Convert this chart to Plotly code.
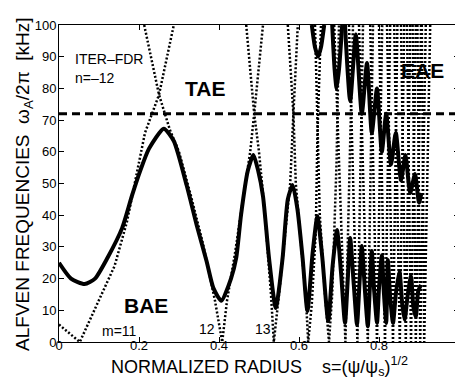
import plotly.graph_objects as go

# ---------------- data ----------------
# lower (BAE/TAE) toroidal continuum branch, thick solid
s_lower = [0.0, 0.03, 0.064, 0.09, 0.121, 0.158, 0.183, 0.203, 0.225, 0.262, 0.287, 0.319, 0.344,
           0.369, 0.386, 0.406, 0.43, 0.443, 0.455, 0.472, 0.486, 0.498, 0.51, 0.525, 0.542,
           0.559, 0.572, 0.584, 0.596, 0.609, 0.621, 0.634, 0.646, 0.658, 0.673, 0.684,
           0.695, 0.705, 0.715, 0.722, 0.728, 0.737, 0.745, 0.751, 0.757, 0.765, 0.772,
           0.777, 0.782, 0.788, 0.795, 0.80, 0.807, 0.812, 0.818, 0.822, 0.828, 0.835,
           0.842, 0.851, 0.858, 0.864, 0.872, 0.88, 0.886, 0.892, 0.898, 0.905]
f_lower = [25.0, 20.0, 18.3, 20.0, 26.5, 36.0, 46.4, 54.0, 61.0, 67.3, 63.4, 49.5, 37.0,
           25.5, 17.0, 13.0, 20.0, 26.5, 40.0, 54.0, 59.0, 54.0, 46.0, 26.5, 10.7,
           26.5, 45.0, 49.5, 42.0, 26.5, 9.8, 28.0, 39.7, 27.0, 6.6, 24.0,
           35.3, 22.0, 6.0, 20.0, 32.8, 18.0, 5.5, 18.0, 30.3, 16.0, 5.0,
           17.0, 28.7, 16.0, 6.0, 17.0, 27.4, 16.0, 6.0, 25.9, 14.0, 6.0,
           15.0, 22.4, 12.0, 7.0, 15.0, 20.8, 11.0, 8.0, 16.0, 18.0]

# upper (EAE side) toroidal continuum branches, thick solid
s_upper1 = [0.632, 0.640, 0.648, 0.655, 0.663]
f_upper1 = [100.0, 93.0, 90.0, 93.0, 100.0]
s_upper2 = [0.683, 0.689, 0.694, 0.700, 0.708]
f_upper2 = [100.0, 86.0, 80.0, 86.0, 100.0]
s_upper3 = [0.715, 0.728, 0.742, 0.757, 0.770, 0.782, 0.795, 0.807, 0.818, 0.830,
            0.842, 0.855, 0.866, 0.878, 0.890, 0.900, 0.906]
f_upper3 = [100.0, 76.0, 97.0, 72.0, 88.0, 66.0, 80.0, 60.0, 72.0, 56.0,
            66.0, 51.0, 59.0, 47.0, 53.0, 44.0, 47.0]

# cylindrical continua (dotted), one V per poloidal mode number m
cyl_m11_s = [0.0, 0.052, 0.139, 0.17, 0.215, 0.25, 0.287]
cyl_m11_f = [5.5, 0.0, 24.0, 38.0, 66.0, 78.0, 100.0]
cyl_m12_s = [0.213, 0.25, 0.277, 0.30, 0.33, 0.36, 0.39, 0.408, 0.42, 0.44, 0.46, 0.478, 0.488, 0.51]
cyl_m12_f = [100.0, 78.0, 67.0, 60.0, 46.0, 31.0, 13.0, 0.0, 13.0, 28.0, 45.0, 60.0, 72.0, 100.0]
cyl_m13_s = [0.468, 0.488, 0.50, 0.515, 0.53, 0.537, 0.55, 0.565, 0.578, 0.586, 0.597]
cyl_m13_f = [100.0, 72.0, 60.0, 40.0, 15.0, 0.0, 15.0, 35.0, 50.0, 72.0, 100.0]
cyl_m14_s = [0.572, 0.586, 0.592, 0.605, 0.618, 0.623, 0.632, 0.642, 0.646, 0.655]
cyl_m14_f = [100.0, 72.0, 50.0, 30.0, 12.0, 0.0, 12.0, 35.0, 65.0, 100.0]
cyl_m15_s = [0.640, 0.646, 0.652, 0.665, 0.675, 0.683, 0.694, 0.700]
cyl_m15_f = [100.0, 65.0, 40.0, 15.0, 0.0, 15.0, 57.0, 100.0]
cyl_m16_s = [0.688, 0.716, 0.735]
cyl_m16_f = [100.0, 0.0, 100.0]
cyl_m17_s = [0.725, 0.746, 0.760]
cyl_m17_f = [100.0, 0.0, 100.0]
cyl_m18_s = [0.750, 0.772, 0.785]
cyl_m18_f = [100.0, 0.0, 100.0]
cyl_m19_s = [0.778, 0.795, 0.808]
cyl_m19_f = [100.0, 0.0, 100.0]
cyl_m20_s = [0.800, 0.815, 0.828]
cyl_m20_f = [100.0, 0.0, 100.0]
cyl_m21_s = [0.820, 0.835, 0.846]
cyl_m21_f = [100.0, 0.0, 100.0]
cyl_m22_s = [0.838, 0.852, 0.863]
cyl_m22_f = [100.0, 0.0, 100.0]
cyl_m23_s = [0.855, 0.867, 0.878]
cyl_m23_f = [100.0, 0.0, 100.0]
cyl_m24_s = [0.870, 0.880, 0.892]
cyl_m24_f = [100.0, 0.0, 100.0]
cyl_m25_s = [0.884, 0.892, 0.905]
cyl_m25_f = [100.0, 0.0, 100.0]
cyl_m26_s = [0.896, 0.903, 0.917]
cyl_m26_f = [100.0, 0.0, 100.0]
cyl_m27_s = [0.907, 0.913, 0.928]
cyl_m27_f = [100.0, 0.0, 100.0]

# TAE frequency (dashed)
gap_s = [0.0, 1.0]
gap_f = [72.0, 72.0]

x_ticks = [0, 0.2, 0.4, 0.6, 0.8, 1.0]
x_tick_labels = ["0", "0.2", "0.4", "0.6", "0.8", "1"]
y_ticks = [0, 10, 20, 30, 40, 50, 60, 70, 80, 90, 100]

# ---------------- figure ----------------
FONT = "Liberation Sans, Arial, sans-serif"
fig = go.Figure()

cyl = [(cyl_m11_s, cyl_m11_f), (cyl_m12_s, cyl_m12_f), (cyl_m13_s, cyl_m13_f),
       (cyl_m14_s, cyl_m14_f), (cyl_m15_s, cyl_m15_f), (cyl_m16_s, cyl_m16_f),
       (cyl_m17_s, cyl_m17_f), (cyl_m18_s, cyl_m18_f), (cyl_m19_s, cyl_m19_f),
       (cyl_m20_s, cyl_m20_f), (cyl_m21_s, cyl_m21_f), (cyl_m22_s, cyl_m22_f),
       (cyl_m23_s, cyl_m23_f), (cyl_m24_s, cyl_m24_f), (cyl_m25_s, cyl_m25_f),
       (cyl_m26_s, cyl_m26_f), (cyl_m27_s, cyl_m27_f)]
for xs, ys in cyl:
    fig.add_trace(go.Scatter(x=xs, y=ys, mode="lines", hoverinfo="skip",
                             line=dict(color="black", width=2.5, dash="2px,2px")))

for xs, ys in [(s_lower, f_lower), (s_upper1, f_upper1), (s_upper2, f_upper2), (s_upper3, f_upper3)]:
    fig.add_trace(go.Scatter(x=xs, y=ys, mode="lines", hoverinfo="skip",
                             line=dict(color="black", width=4, shape="spline", smoothing=0.6)))

fig.add_trace(go.Scatter(x=gap_s, y=gap_f, mode="lines", hoverinfo="skip",
                         line=dict(color="black", width=3, dash="8px,5px")))

ann_small = dict(showarrow=False, font=dict(family=FONT, size=14, color="black"))
ann_big = dict(showarrow=False, font=dict(family=FONT, size=21, color="black"))
annotations = [
    dict(text="ITER–FDR", x=0.035, y=89.3, xanchor="left", yanchor="middle", **ann_small),
    dict(text="n=–12", x=0.035, y=83.3, xanchor="left", yanchor="middle", **ann_small),
    dict(text="m=11", x=0.151, y=3.5, xanchor="center", yanchor="middle", **ann_small),
    dict(text="12", x=0.369, y=4.1, xanchor="center", yanchor="middle", **ann_small),
    dict(text="13", x=0.51, y=4.1, xanchor="center", yanchor="middle", **ann_small),
    dict(text="<b>TAE</b>", x=0.365, y=80.1, xanchor="center", yanchor="middle", **ann_big),
    dict(text="<b>EAE</b>", x=0.908, y=85.5, xanchor="center", yanchor="middle", **ann_big),
    dict(text="<b>BAE</b>", x=0.218, y=11.4, xanchor="center", yanchor="middle", **ann_big),
    dict(text="ALFVEN FREQUENCIES\u00a0\u00a0ω<sub>A</sub>/2π\u00a0\u00a0[kHz]",
         xref="paper", yref="paper", x=-0.089, y=0.5, xanchor="center", yanchor="middle",
         textangle=-90, showarrow=False,
         font=dict(family=FONT, size=19, color="black")),
    dict(text="NORMALIZED RADIUS\u00a0\u00a0\u00a0\u00a0s=(ψ/ψ<sub>s</sub>)<sup>1/2</sup>",
         xref="paper", yref="paper", x=0.5, y=-0.077, xanchor="center", yanchor="middle",
         showarrow=False,
         font=dict(family=FONT, size=18, color="black")),
]

axis_common = dict(showgrid=False, zeroline=False, showline=True, linecolor="black", linewidth=1,
                   mirror="ticks", ticks="inside", ticklen=5, tickcolor="black", tickwidth=1,
                   tickfont=dict(family=FONT, size=13, color="black"))
fig.update_layout(
    width=463, height=378,
    margin=dict(l=51, r=8, t=17, b=44),
    paper_bgcolor="white", plot_bgcolor="white",
    showlegend=False,
    xaxis=dict(range=[0, 1], tickvals=x_ticks, ticktext=x_tick_labels,
               ticklabelstandoff=-9, **axis_common),
    yaxis=dict(range=[0, 100], tickvals=y_ticks, ticklabelstandoff=-1, **axis_common),
    annotations=annotations,
)

fig.write_html("out.html")
